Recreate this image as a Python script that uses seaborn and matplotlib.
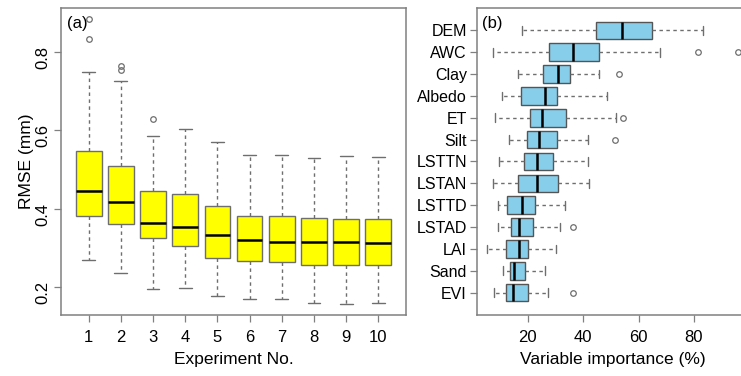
import matplotlib
matplotlib.use("Agg")
import matplotlib.pyplot as plt
import seaborn as sns

# (a) RMSE of the 10 experiments: whisker ends, quartiles, median, outliers
experiments = ["1", "2", "3", "4", "5", "6", "7", "8", "9", "10"]
rmse_low = [0.269, 0.235, 0.195, 0.197, 0.178, 0.169, 0.169, 0.160, 0.158, 0.160]
rmse_q1 = [0.380, 0.360, 0.326, 0.304, 0.275, 0.266, 0.265, 0.257, 0.257, 0.257]
rmse_med = [0.444, 0.417, 0.364, 0.354, 0.332, 0.321, 0.316, 0.314, 0.316, 0.312]
rmse_q3 = [0.546, 0.508, 0.445, 0.436, 0.407, 0.382, 0.380, 0.376, 0.374, 0.374]
rmse_high = [0.748, 0.725, 0.585, 0.603, 0.570, 0.536, 0.536, 0.529, 0.534, 0.532]
rmse_out = [[0.831, 0.882], [0.753, 0.764], [0.629], [], [], [], [], [], [], []]

# (b) variable importance (%)
variables = ["DEM", "AWC", "Clay", "Albedo", "ET", "Silt", "LSTTN",
             "LSTAN", "LSTTD", "LSTAD", "LAI", "Sand", "EVI"]
imp_low = [18.1, 7.4, 16.5, 10.6, 8.1, 13.4, 9.7, 7.4, 9.4, 9.4, 5.2, 11.2, 7.9]
imp_q1 = [44.5, 27.7, 25.6, 17.7, 20.8, 19.9, 18.6, 16.6, 12.6, 14.0, 12.3, 13.5, 12.3]
imp_med = [53.9, 36.4, 31.0, 26.1, 25.0, 24.1, 23.4, 23.2, 18.1, 17.0, 17.0, 15.2, 14.8]
imp_q3 = [65.0, 45.8, 35.2, 30.7, 33.8, 30.6, 29.0, 30.8, 22.6, 22.0, 20.2, 19.0, 20.2]
imp_high = [83.1, 67.7, 45.8, 48.5, 51.8, 41.8, 41.6, 42.2, 33.4, 31.7, 30.3, 26.3, 27.4]
imp_out = [[], [81.3, 95.9], [52.9], [], [54.2], [51.5], [], [], [], [36.3], [], [], [36.2]]


def box_stats(labels, low, q1, med, q3, high, out):
    return [dict(label=lab, whislo=a, q1=b, med=c, q3=d, whishi=e, fliers=f)
            for lab, a, b, c, d, e, f in zip(labels, low, q1, med, q3, high, out)]


sns.set_theme(style="white")
plt.rcParams["font.family"] = ["Liberation Sans", "DejaVu Sans"]
plt.rcParams["text.color"] = "black"
plt.rcParams["axes.labelcolor"] = "black"
plt.rcParams["xtick.labelcolor"] = "black"
plt.rcParams["ytick.labelcolor"] = "black"

W, H = 741, 376
fig = plt.figure(figsize=(W / 100, H / 100), dpi=100)
ax1 = fig.add_axes([61 / W, 61 / H, 345 / W, 307 / H])
ax2 = fig.add_axes([476.7 / W, 61 / H, 271.3 / W, 307 / H])

edge = "#6e6e6e"
common = dict(widths=0.8, patch_artist=True, manage_ticks=False, capwidths=0.4,
              whiskerprops=dict(color=edge, linestyle=(0, (2.5, 2.5)), linewidth=1),
              capprops=dict(color=edge, linewidth=1),
              medianprops=dict(color="black", linewidth=1.8),
              flierprops=dict(marker="o", markerfacecolor="none",
                              markeredgecolor=edge, markersize=4, markeredgewidth=0.9))

# panel (a)
pos_a = list(range(1, len(experiments) + 1))
ax1.bxp(box_stats(experiments, rmse_low, rmse_q1, rmse_med, rmse_q3, rmse_high, rmse_out),
        positions=pos_a, orientation="vertical",
        boxprops=dict(facecolor="#ffff00", edgecolor=edge, linewidth=1), **common)
ax1.set_xlim(0.14, 10.86)
ax1.set_ylim(0.129, 0.911)
ax1.set_xticks(pos_a, experiments)
ax1.set_yticks([0.2, 0.4, 0.6, 0.8], ["0.2", "0.4", "0.6", "0.8"])
ax1.tick_params(axis="y", labelrotation=90)
ax1.set_xlabel("Experiment No.", fontsize=12.5, labelpad=5)
ax1.set_ylabel("RMSE (mm)", fontsize=12.5, labelpad=1)
ax1.text(0.018, 0.975, "(a)", transform=ax1.transAxes, fontsize=12, va="top", ha="left")

# panel (b)
pos_b = list(range(len(variables), 0, -1))
ax2.bxp(box_stats(variables, imp_low, imp_q1, imp_med, imp_q3, imp_high, imp_out),
        positions=pos_b, orientation="horizontal",
        boxprops=dict(facecolor="#87ceeb", edgecolor="#555555", linewidth=1), **common)
ax2.set_ylim(-0.02, 14.02)
ax2.set_xlim(1.57, 99.5)
ax2.set_xticks([20, 40, 60, 80], ["20", "40", "60", "80"])
ax2.set_yticks(pos_b, variables)
ax2.set_xlabel("Variable importance (%)", fontsize=12.5, labelpad=5)
ax2.text(0.02, 0.975, "(b)", transform=ax2.transAxes, fontsize=12, va="top", ha="left")

for ax in (ax1, ax2):
    for sp in ax.spines.values():
        sp.set_color("#808080")
        sp.set_linewidth(1.1)
    ax.tick_params(length=5, width=0.9, color="#808080", labelsize=12,
                   bottom=True, left=True, pad=6)
ax2.tick_params(axis="y", pad=2, labelsize=11.5)
ax1.tick_params(axis="y", pad=3)

fig.savefig("out.png", dpi=100)
